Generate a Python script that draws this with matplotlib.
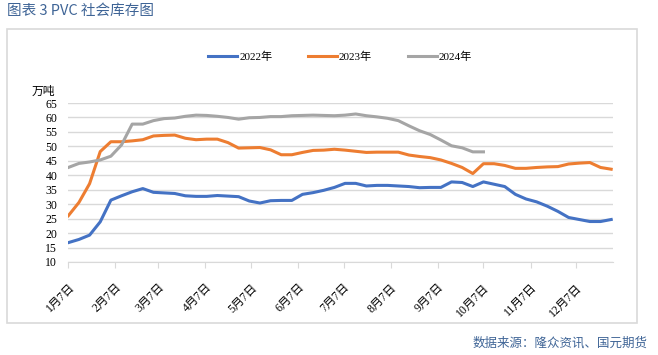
import matplotlib
matplotlib.use("Agg")
import matplotlib.pyplot as plt
from matplotlib.patches import Rectangle
import pandas as pd

plt.rcParams['font.family'] = ['Liberation Serif', 'Noto Sans CJK SC']

# weekly dates (month/day only matters)
weeks = pd.date_range("2023-01-07", periods=52, freq="7D")

inv_2022 = [16.7, 17.8, 19.3, 23.9, 31.4, 32.9, 34.3, 35.4, 34.1, 33.9,
            33.7, 32.9, 32.7, 32.7, 33.0, 32.8, 32.6, 31.1, 30.4, 31.2,
            31.3, 31.3, 33.4, 34.0, 34.8, 35.8, 37.2, 37.2, 36.3, 36.5,
            36.5, 36.3, 36.1, 35.7, 35.8, 35.8, 37.7, 37.5, 36.1, 37.7,
            36.9, 36.1, 33.4, 31.8, 30.8, 29.3, 27.5, 25.4, 24.7, 24.0,
            24.0, 24.7]
inv_2023 = [26.0, 30.6, 37.1, 48.2, 51.6, 51.6, 51.9, 52.3, 53.6, 53.8,
            53.9, 52.8, 52.3, 52.5, 52.5, 51.3, 49.4, 49.5, 49.6, 48.8,
            47.1, 47.1, 47.9, 48.6, 48.7, 49.0, 48.7, 48.3, 47.9, 48.0,
            48.0, 48.0, 47.0, 46.5, 46.1, 45.3, 44.1, 42.7, 40.6, 44.0,
            44.0, 43.4, 42.4, 42.4, 42.7, 42.9, 43.0, 43.9, 44.2, 44.4,
            42.7, 42.1]
inv_2024 = [42.7, 44.1, 44.6, 45.3, 46.6, 50.5, 57.7, 57.7, 58.9, 59.6,
            59.8, 60.4, 60.8, 60.7, 60.4, 60.0, 59.4, 59.9, 60.0, 60.3,
            60.3, 60.6, 60.7, 60.8, 60.7, 60.6, 60.8, 61.2, 60.6, 60.2,
            59.7, 58.9, 57.1, 55.4, 54.1, 52.2, 50.2, 49.5, 48.1, 48.1]

tick_dates = pd.date_range("2023-01-01", periods=12, freq="MS") + pd.Timedelta(days=6)
tick_labels = [f"{m}月7日" for m in range(1, 13)]
legend_labels = ["2022年", "2023年", "2024年"]
colors = ["#4472C4", "#ED7D31", "#A5A5A5"]

fig = plt.figure(figsize=(6.58, 3.55), dpi=100)
fig.patches.append(Rectangle((7 / 658, 1 - 323 / 355), 630 / 658, 294 / 355,
                             transform=fig.transFigure, fill=False,
                             edgecolor="#D9D9D9", linewidth=1.2))

ax = fig.add_axes([68.3 / 658, 93 / 355, 544.4 / 658, 159 / 355])
series = [inv_2022, inv_2023, inv_2024]
lines = []
for vals, c, lab in zip(series, colors, legend_labels):
    ln, = ax.plot(weeks[:len(vals)], vals, color=c, linewidth=2.2,
                  solid_joinstyle="round", label=lab)
    lines.append(ln)

ax.set_ylim(10, 65)
ax.set_yticks(range(10, 66, 5))
ax.set_xlim(pd.Timestamp("2023-01-07"), pd.Timestamp("2023-12-31"))
ax.set_xticks(tick_dates)
ax.set_xticklabels(tick_labels, rotation=45, ha="right", rotation_mode="anchor",
                   fontsize=8.5)
ax.tick_params(axis="x", length=4, color="#D9D9D9", pad=10)
ax.tick_params(axis="y", length=0, labelsize=8.5, pad=8)
ax.grid(axis="y", color="#D9D9D9", linewidth=1)
ax.set_axisbelow(True)
for s in ["top", "right", "left"]:
    ax.spines[s].set_visible(False)
ax.spines["bottom"].set_color("#D9D9D9")

ax.text(-0.045, 1.05, "万吨", transform=ax.transAxes, fontsize=8.5, ha="center")

fig.legend(handles=lines, loc="center", bbox_to_anchor=(340 / 658, 1 - 57 / 355),
           ncol=3, frameon=False, fontsize=8, handlelength=2.6,
           columnspacing=3.2, handletextpad=0.2)

fig.text(7 / 658, 1 - 11 / 355, "图表 3 PVC 社会库存图", fontsize=10.5,
         color="#3E6496", family=["Noto Sans CJK SC"], va="center", ha="left")
fig.text(648 / 658, 1 - 343 / 355, "数据来源：隆众资讯、国元期货", fontsize=9,
         color="#3E6496", family=["Noto Sans CJK SC"], va="center", ha="right")

fig.savefig("out.png", dpi=100)
